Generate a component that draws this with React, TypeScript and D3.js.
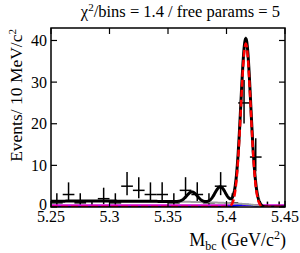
import React from "react";
import * as d3 from "d3";

// ---- data ----
const binCenters = [5.255, 5.265, 5.275, 5.285, 5.295, 5.305, 5.315, 5.325, 5.335, 5.345,
  5.355, 5.365, 5.375, 5.385, 5.395, 5.405, 5.415, 5.425, 5.435, 5.445];
const counts = [1, 3, 1, 0, 2, 1, 5, 4, 3, 3, 1, 4, 3, 1, 5, 1, 25, 12, 0, 0];
// asymmetric Poisson errors per count
const poissonLo: Record<number, number> = { 0: 0, 1: 0.827, 2: 1.292, 3: 1.633, 4: 1.914, 5: 2.159, 12: 3.415, 25: 4.966 };
const poissonHi: Record<number, number> = { 0: 1.3, 1: 2.299, 2: 2.637, 3: 2.918, 4: 3.162, 5: 3.382, 12: 4.517, 25: 5.5 };
const binWidth = 0.01;

const xTicks = [5.25, 5.3, 5.35, 5.4, 5.45];
const yTicks = [0, 10, 20, 30, 40];

// fit-component parameters
const argus = { N: 1.88, m0: 5.43, c: -9 };
const bump1 = { A: 2.4, mu: 5.3705, s: 0.0045 };
const bump2 = { A: 3.8, mu: 5.3947, s: 0.0045 };
const blueComp = { A: 0.55, mu: 5.416, s: 0.008 };
const signal = { A: 39.2, mu: 5.4165, s: 0.0042 };
const flatLevel = 0.4;

const W = 300, H = 253;
const L = 51, R = 285, T = 28, B = 207;
const font = "'Liberation Serif', 'DejaVu Serif', serif";

function gauss(m: number, p: { A: number; mu: number; s: number }) {
  const z = (m - p.mu) / p.s;
  return p.A * Math.exp(-0.5 * z * z);
}
function argusF(m: number) {
  const r = 1 - (m / argus.m0) ** 2;
  if (r <= 0) return 0;
  return argus.N * m * Math.sqrt(r) * Math.exp(argus.c * r);
}

export default function App() {
  const x = d3.scaleLinear().domain([5.25, 5.45]).range([L, R]);
  const y = d3.scaleLinear().domain([0, 43]).range([B, T]);

  const grid = d3.range(0, 801).map((i) => 5.25 + (0.2 * i) / 800);
  const line = d3.line<[number, number]>().x((d) => x(d[0])).y((d) => y(d[1])).curve(d3.curveLinear);

  const bgPts = grid.map((m) => [m, argusF(m)] as [number, number]);
  const bluePts = grid.map((m) => [m, gauss(m, blueComp)] as [number, number]);
  const sigPts = grid.map((m) => [m, gauss(m, signal)] as [number, number]);
  const totPts = grid.map((m) => [m, argusF(m) + gauss(m, bump1) + gauss(m, bump2) + gauss(m, blueComp) + gauss(m, signal)] as [number, number]);
  const flatPts = grid.map((m) => [m, flatLevel] as [number, number]);

  return (
    <svg width={W} height={H} style={{ position: "absolute", left: 0, top: 0, background: "#fff" }}>
      <defs>
        <clipPath id="plotclip">
          <rect x={L} y={T} width={R - L} height={B - T} />
        </clipPath>
      </defs>
      {/* data points */}
      <g stroke="#000" strokeWidth={1.5}>
        {binCenters.map((c, i) => {
          const n = counts[i];
          const lo = poissonLo[n];
          const hi = poissonHi[n];
          return (
            <g key={i}>
              {n > 0 && <line x1={x(c - binWidth / 2)} x2={x(c + binWidth / 2)} y1={y(n)} y2={y(n)} />}
              <line x1={x(c)} x2={x(c)} y1={y(n - lo)} y2={y(n + hi)} />
            </g>
          );
        })}
      </g>
      <g clipPath="url(#plotclip)" fill="none">
        <path d={line(flatPts)!} stroke="#d000d0" strokeWidth={2} />
        <path d={line(bluePts)!} stroke="#0000ff" strokeWidth={2} />
        <path d={line(bgPts)!} stroke="#a0a0a0" strokeWidth={2} />
        <path d={line(totPts)!} stroke="#000" strokeWidth={3} />
        <path d={line(sigPts)!} stroke="#ff0000" strokeWidth={2.5} strokeDasharray="7 3" />
      </g>
      {/* frame */}
      <rect x={L} y={T} width={R - L} height={B - T} fill="none" stroke="#000" strokeWidth={1.5} />
      {/* ticks */}
      <g stroke="#000" strokeWidth={1.2}>
        {xTicks.map((t) => (
          <g key={t}>
            <line x1={x(t)} x2={x(t)} y1={B} y2={B - 6} />
            <line x1={x(t)} x2={x(t)} y1={T} y2={T + 6} />
          </g>
        ))}
        {yTicks.map((t) => (
          <g key={t}>
            <line x1={L} x2={L + 6} y1={y(t)} y2={y(t)} />
            <line x1={R} x2={R - 6} y1={y(t)} y2={y(t)} />
          </g>
        ))}
      </g>
      <g fontFamily={font} fontSize={16} fill="#000">
        {xTicks.map((t) => (
          <text key={t} x={x(t)} y={B + 15} textAnchor="middle">{String(t)}</text>
        ))}
        {yTicks.map((t) => (
          <text key={t} x={L - 4} y={y(t) + (t === 0 ? 2.5 : 5.5)} textAnchor="end">{String(t)}</text>
        ))}
      </g>
      {/* title */}
      <text x={280} y={17} textAnchor="end" fontFamily={font} fontSize={16.5}>
        χ<tspan dy={-6} fontSize={11}>2</tspan><tspan dy={6}>/bins = 1.4 / free params = 5</tspan>
      </text>
      {/* y title */}
      <text transform={`translate(22,${T + 1}) rotate(-90)`} textAnchor="end" fontFamily={font} fontSize={17.5}>
        Events/ 10 MeV/c<tspan dy={-6} fontSize={11}>2</tspan>
      </text>
      {/* x title */}
      <text x={286} y={246} textAnchor="end" fontFamily={font} fontSize={18}>
        M<tspan dy={4} fontSize={12}>bc</tspan><tspan dy={-4}> (GeV/c</tspan><tspan dy={-7} fontSize={12}>2</tspan><tspan dy={7}>)</tspan>
      </text>
    </svg>
  );
}
